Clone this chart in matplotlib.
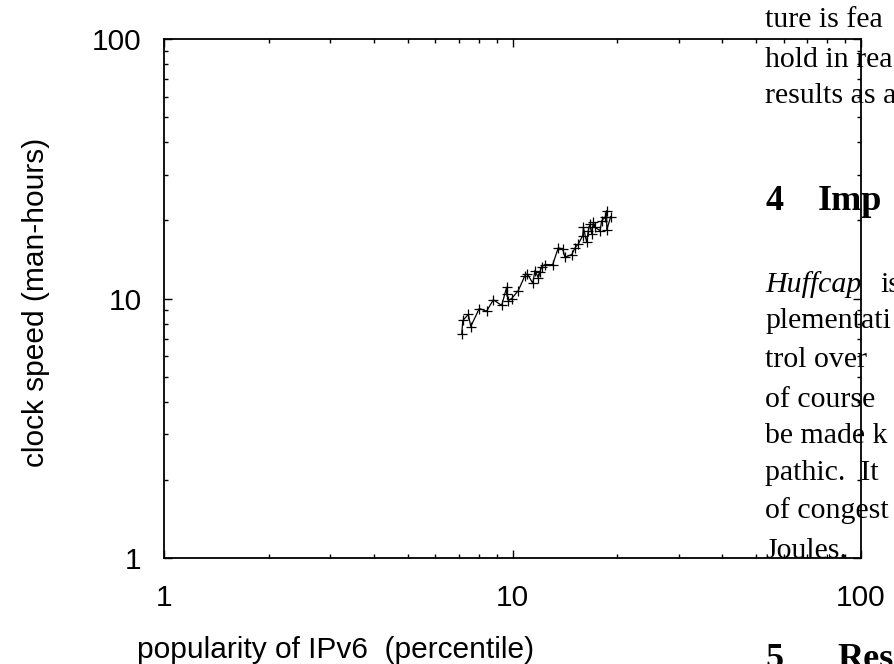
import matplotlib
matplotlib.use("Agg")
import matplotlib.pyplot as plt
from matplotlib.ticker import LogLocator, NullFormatter, FixedFormatter, FixedLocator

# popularity of IPv6 (percentile) vs clock speed (man-hours)
popularity = [7.15, 7.20, 7.47, 7.59, 8.03, 8.43, 8.81, 9.31, 9.62, 9.62, 9.73, 9.95,
              10.39, 10.86, 11.03, 11.43, 11.60, 11.86, 11.99, 12.13, 12.40, 13.04,
              13.53, 13.93, 14.14, 14.79, 15.11, 15.45, 15.91, 15.97, 16.33, 16.50,
              16.69, 16.88, 17.06, 17.25, 17.83, 18.03, 18.43, 18.64, 18.64, 19.13]
clock_speed = [7.27, 8.23, 8.68, 7.80, 9.15, 8.94, 9.89, 9.40, 11.05, 10.42, 9.82, 10.0,
               10.73, 12.26, 12.45, 11.45, 12.82, 12.02, 12.63, 13.28, 13.51, 13.51,
               15.67, 15.53, 14.42, 14.77, 15.67, 16.23, 17.48, 18.80, 16.46, 18.26,
               19.38, 17.74, 19.66, 18.80, 18.26, 19.95, 20.55, 21.81, 18.37, 20.68]

ticks = [1, 10, 100]
tick_labels = ["1", "10", "100"]

# page text that overlaps the figure on the right (line text, baseline y in px)
page_lines = [("ture is fea", 27), ("hold in rea", 67), ("results as a", 103),
              ("plementati", 328), ("trol over", 367), ("of course", 407),
              ("be made k", 443), ("pathic.  It", 480), ("of congest", 518),
              ("Joules.", 558)]

W, H = 894, 664
fig = plt.figure(figsize=(W / 100, H / 100), dpi=100)
ax = fig.add_axes([164 / W, 1 - 558 / H, 697 / W, 519 / H])

ax.plot(popularity, clock_speed, "-", color="black", lw=0.9,
        marker="+", ms=7.5, mew=0.9)

ax.set_xscale("log")
ax.set_yscale("log")
ax.set_xlim(1, 100)
ax.set_ylim(1, 100)

sans = "Liberation Sans"
for axis in (ax.xaxis, ax.yaxis):
    axis.set_major_locator(FixedLocator(ticks))
    axis.set_major_formatter(FixedFormatter(tick_labels))
    axis.set_minor_locator(LogLocator(base=10, subs=range(2, 10)))
    axis.set_minor_formatter(NullFormatter())
ax.tick_params(which="both", direction="in", top=True, right=True, width=1.0, colors="black")
ax.tick_params(which="major", length=6)
ax.tick_params(which="minor", length=3)
ax.tick_params(axis="x", which="major", pad=19, labelsize=21.5)
ax.tick_params(axis="y", which="major", pad=16, labelsize=21.5)
for lab in ax.get_xticklabels() + ax.get_yticklabels():
    lab.set_fontfamily(sans)
for sp in ax.spines.values():
    sp.set_linewidth(1.3)

ax.set_xlabel("popularity of IPv6  (percentile)", fontsize=21.5, family=sans, va="center")
ax.xaxis.set_label_coords((336 - 164) / 697, (558 - 650) / 519)
ax.set_ylabel("clock speed (man-hours)", fontsize=21.5, family=sans, va="center")
ax.yaxis.set_label_coords((36 - 164) / 697, (558 - 302) / 519)

serif = "Liberation Serif"
body = 21.5
head = 26
x0 = 765 / W
for txt, base in page_lines:
    fig.text(x0, 1 - base / H, txt, family=serif, fontsize=body, va="baseline", ha="left")
fig.text(x0, 1 - 292 / H, "Huffcap", family=serif, style="italic", fontsize=body, va="baseline")
fig.text(880 / W, 1 - 292 / H, "is", family=serif, fontsize=body, va="baseline")
fig.text(x0, 1 - 210 / H, "4", family=serif, weight="bold", fontsize=head, va="baseline")
fig.text(818 / W, 1 - 210 / H, "Imp", family=serif, weight="bold", fontsize=head, va="baseline")
fig.text(x0, 1 - 668 / H, "5", family=serif, weight="bold", fontsize=head, va="baseline")
fig.text(837 / W, 1 - 668 / H, "Res", family=serif, weight="bold", fontsize=head, va="baseline")

fig.savefig("out.png", dpi=100)
